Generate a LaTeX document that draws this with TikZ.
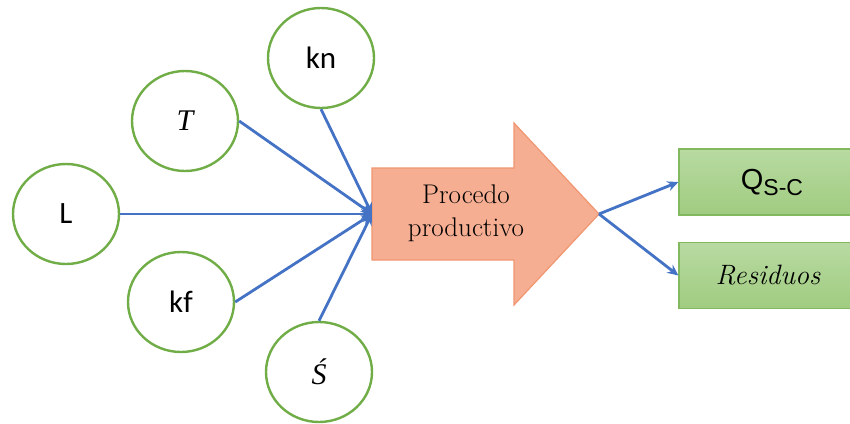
\documentclass[tikz,border=0pt]{standalone}
\usepackage{fontspec}
\newfontfamily\calib{Carlito}
\newfontfamily\arialf{Liberation Sans}
\newfontfamily\timesf{Liberation Serif}
\usetikzlibrary{arrows.meta,shapes.geometric}
\definecolor{ogreen}{RGB}{112,173,71}
\definecolor{oblue}{RGB}{68,114,196}
\definecolor{salfill}{RGB}{245,174,146}
\definecolor{saldraw}{RGB}{240,150,112}
\definecolor{bxtop}{RGB}{184,218,162}
\definecolor{bxbot}{RGB}{160,204,128}
\definecolor{bxdraw}{RGB}{130,185,95}
\tikzset{
  var/.style={ellipse, draw=ogreen, line width=2.4pt, fill=white, minimum width=106pt, minimum height=100pt, inner sep=0pt},
  sanslbl/.style={font=\calib\fontsize{31}{34}\selectfont},
  seriflbl/.style={font=\timesf\fontsize{30}{34}\selectfont\itshape},
  conn/.style={draw=oblue, line width=2.8pt, -{Stealth[length=11pt,width=10pt]}},
  outbox/.style={rectangle, draw=bxdraw, line width=1.2pt, top color=bxtop, bottom color=bxbot, minimum width=172pt, minimum height=66pt, inner sep=0pt},
}
\begin{document}
\begin{tikzpicture}[x=1pt,y=-1pt]
\useasboundingbox (0,0) rectangle (850,423);
% inputs
\node[var, sanslbl] (kn) at (321,58) {kn};
\node[var, seriflbl] (T) at (185,121) {T};
\node[var, sanslbl] (L) at (66,214) {L};
\node[var, sanslbl] (kf) at (181,302) {kf};
\node[var, seriflbl] (S) at (319,372) {Ś};
% process arrow
\filldraw[fill=salfill, draw=saldraw, line width=1.2pt]
  (372,168) -- (514,168) -- (514,123) -- (599,214) -- (514,305) -- (514,260) -- (372,260) -- cycle;
\coordinate (in) at (372,214);
\coordinate (out) at (599,214);
\node[align=center, font=\fontsize{27}{33}\selectfont] (proc) at (466,213) {Procedo\\productivo};
% outputs
\node[outbox] (Q) at (765,182) {\hspace*{14pt}\arialf\fontsize{29}{30}\selectfont Q\raisebox{-6pt}{\fontsize{23}{24}\selectfont S-C}};
\node[outbox] (R) at (765,275.5) {\hspace*{6pt}\fontsize{28}{30}\selectfont\itshape Residuos};
% connectors
\draw[conn] (kn.south) -- (in);
\draw[conn] (T.east) -- (in);
\draw[conn] (L.east) -- (in);
\draw[conn] (kf.east) -- (in);
\draw[conn] (S.north) -- (in);
\draw[conn] (out) -- (Q.west);
\draw[conn] (out) -- (R.west);
\end{tikzpicture}
\end{document}
